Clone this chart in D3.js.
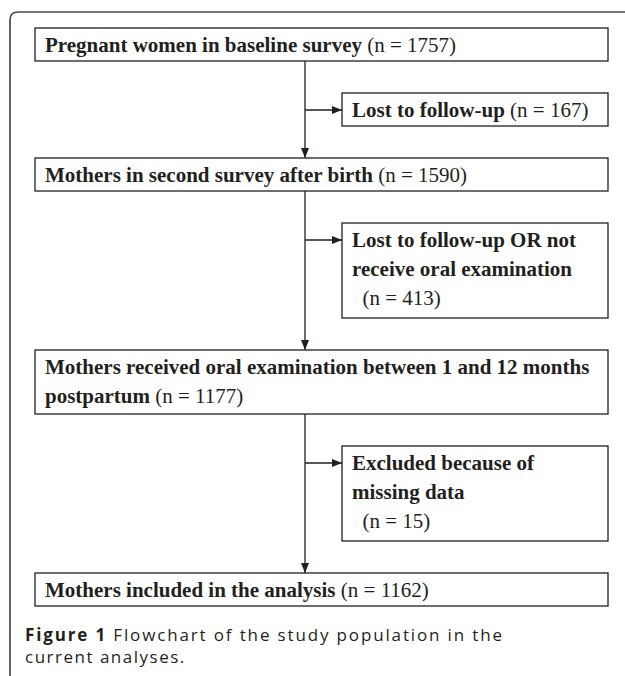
<!DOCTYPE html>
<html lang="en">
<head>
<meta charset="UTF-8">
<title>Flowchart of the study population</title>
<script src="https://cdn.jsdelivr.net/npm/d3@7"></script>
<style>
    html, body {
        margin: 0;
        padding: 0;
        background: #fff;
    }
    #chart {
        width: 625px;
        height: 676px;
    }
    .box {
        fill: #fff;
        stroke: #231f20;
        stroke-width: 1.3;
    }
    .link {
        stroke: #231f20;
        stroke-width: 1.3;
        fill: none;
    }
    .lbl {
        font-family: "Liberation Serif", "Times New Roman", serif;
        font-size: 21px;
        fill: #231f20;
    }
    .cap {
        font-family: "Open Sans", "Noto Sans", sans-serif;
        font-size: 17px;
        fill: #231f20;
    }
</style>
</head>
<body>
<div id="chart"></div>
<script>
    // main stream boxes (text lines, last line gets the count)
    var mainLines = [
        ["Pregnant women in baseline survey"],
        ["Mothers in second survey after birth"],
        ["Mothers received oral examination between 1 and 12 months", "postpartum"],
        ["Mothers included in the analysis"]
    ];
    var mainCounts = [1757, 1590, 1177, 1162];

    // side boxes for the people who dropped out between two steps
    var sideLines = [
        ["Lost to follow-up"],
        ["Lost to follow-up OR not", "receive oral examination"],
        ["Excluded because of", "missing data"]
    ];
    var sideCounts = [167, 413, 15];

    var captionBold = "Figure 1";
    var captionLines = [" Flowchart of the study population in the", "current analyses."];

    var W = 625, H = 676;
    var svg = d3.select("#chart").append("svg")
        .attr("width", W)
        .attr("height", H);

    // outer frame, only the top and left edge are visible
    svg.append("path")
        .attr("d", "M10," + (H + 2) + " L10,20 Q10,12 18,12 L" + (W + 2) + ",12")
        .attr("fill", "none")
        .attr("stroke", "#4a4a4a")
        .attr("stroke-width", 1.7);

    var defs = svg.append("defs");
    defs.append("marker")
        .attr("id", "tri")
        .attr("viewBox", "0 0 10 8")
        .attr("refX", 10).attr("refY", 4)
        .attr("markerWidth", 10).attr("markerHeight", 8)
        .attr("markerUnits", "userSpaceOnUse")
        .attr("orient", "auto")
        .append("path")
        .attr("d", "M0,0 L10,4 L0,8 Z")
        .attr("fill", "#231f20");

    // layout
    var x = d3.scaleLinear().domain([0, 1]).range([35, 608]);
    var spineX = 305, sideX = 342;
    var boxH = 33, lineH = 31, textH = 29, gap = 32, top0 = 28;

    // side boxes with the count on its own line when the label wraps
    var sideText = sideLines.map(function (l, i) {
        return l.length > 1 ? l.concat(["\u00a0\u00a0(n = " + sideCounts[i] + ")"]) : l;
    });

    function boxHeight(n) { return boxH + (n - 1) * lineH; }

    var rows = [];
    var y = top0;
    mainLines.forEach(function (l, i) {
        var h = boxHeight(l.length);
        rows.push({kind: "main", lines: l, n: mainCounts[i], y: y, h: h});
        y += h;
        if (i < sideLines.length) {
            var sl = sideText[i];
            var sh = boxHeight(sl.length);
            rows.push({kind: "side", lines: sl, n: sl.length > 1 ? null : sideCounts[i], y: y + gap, h: sh});
            y += gap * 2 + sh;
        }
    });

    var mains = rows.filter(function (r) { return r.kind === "main"; });
    var sides = rows.filter(function (r) { return r.kind === "side"; });

    // spine arrows between main boxes
    d3.pairs(mains).forEach(function (p) {
        svg.append("line")
            .attr("class", "link")
            .attr("x1", spineX).attr("x2", spineX)
            .attr("y1", p[0].y + p[0].h)
            .attr("y2", p[1].y)
            .attr("marker-end", "url(#tri)");
    });

    // branch arrows to the side boxes
    svg.selectAll("line.branch")
        .data(sides)
        .enter().append("line")
        .attr("class", "link branch")
        .attr("x1", spineX).attr("x2", sideX)
        .attr("y1", function (d) { return d.y + 17; })
        .attr("y2", function (d) { return d.y + 17; })
        .attr("marker-end", "url(#tri)");

    svg.selectAll("rect.box")
        .data(rows)
        .enter().append("rect")
        .attr("class", "box")
        .attr("x", function (d) { return d.kind === "main" ? x(0) : sideX; })
        .attr("y", function (d) { return d.y; })
        .attr("width", function (d) { return x(1) - (d.kind === "main" ? x(0) : sideX); })
        .attr("height", function (d) { return d.h; });

    rows.forEach(function (r) {
        var tx = (r.kind === "main" ? x(0) : sideX) + 10;
        r.lines.forEach(function (txt, k) {
            var t = svg.append("text")
                .attr("class", "lbl")
                .attr("x", tx)
                .attr("y", r.y + 24 + k * textH);
            var isCount = txt.indexOf("(n =") >= 0;
            t.append("tspan")
                .attr("font-weight", isCount ? "normal" : "bold")
                .text(txt);
            if (k === r.lines.length - 1 && r.n !== null) {
                t.append("tspan")
                    .attr("font-weight", "normal")
                    .text(" (n = " + r.n + ")");
            }
        });
    });

    // caption
    var last = mains[mains.length - 1];
    var capY = last.y + last.h + 35;
    var c1 = svg.append("text")
        .attr("class", "cap")
        .attr("x", 25)
        .attr("y", capY)
        .attr("textLength", 477)
        .attr("lengthAdjust", "spacing");
    c1.append("tspan").attr("font-weight", "bold").text(captionBold);
    c1.append("tspan").text(captionLines[0]);
    svg.append("text")
        .attr("class", "cap")
        .attr("x", 25)
        .attr("y", capY + 22)
        .attr("letter-spacing", "1.5px")
        .text(captionLines[1]);
</script>
</body>
</html>
